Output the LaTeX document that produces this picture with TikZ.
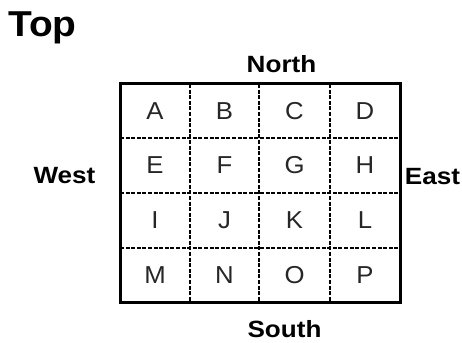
\documentclass[tikz,border=0pt]{standalone}
\usepackage{fontspec}
\setmainfont{Liberation Sans}
\newfontfamily\sidefam[FakeStretch=1.11]{Liberation Sans}
\newfontfamily\topfam[FakeStretch=1.08]{Liberation Sans}
\newfontfamily\cellfam[FakeStretch=1.05]{Liberation Sans}
\begin{document}
\begin{tikzpicture}[x=1pt,y=-1pt,
  cell/.style={inner sep=0pt,font=\cellfam\fontsize{24.5}{25}\selectfont,text=black!85},
  side/.style={inner sep=0pt,font=\sidefam\fontsize{23.5}{24}\selectfont\bfseries},
  grid/.style={line width=1.6pt,dash pattern=on 4pt off 1.6pt},
  frame/.style={line width=3pt}]
\useasboundingbox (0,0) rectangle (462,342);
\node[anchor=base west,inner sep=0pt,font=\topfam\fontsize{36}{36}\selectfont\bfseries] (top) at (8,37) {Top};
% grid lines
\foreach \x in {190,259,330} \draw[grid] (\x,84) -- (\x,302);
\foreach \y in {138,193,248} \draw[grid] (120,\y) -- (400,\y);
\draw[frame] (120,84) rectangle (400,302);
% cells
\foreach \t/\x/\y in {A/155/111,B/224.5/111,C/294.5/111,D/365/111,
                      E/155/165.5,F/224.5/165.5,G/294.5/165.5,H/365/165.5,
                      I/155/220.5,J/224.5/220.5,K/294.5/220.5,L/365/220.5,
                      M/155/275,N/224.5/275,O/294.5/275,P/365/275}
  \node[cell] (c\t) at (\x,\y) {\t};
% sides
\node[side] (north) at (281.5,64.5) {North};
\node[side] (west) at (64.5,176) {West};
\node[side] (east) at (432.5,176.5) {East};
\node[side] (south) at (284.5,329) {South};
\end{tikzpicture}
\end{document}
